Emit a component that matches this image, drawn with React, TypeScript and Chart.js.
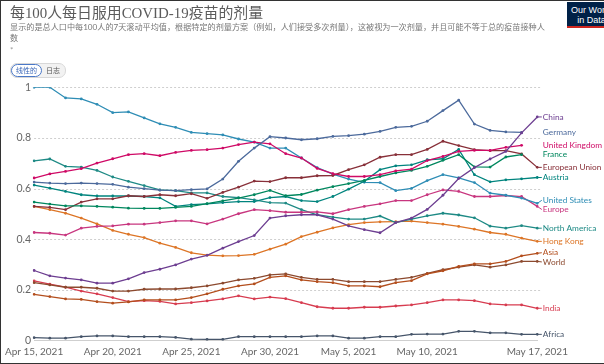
import React, { useEffect, useRef } from "react";
import { Chart, registerables } from "chart.js";

Chart.register(...registerables);

const dates = [
  "Apr 15, 2021", "Apr 16, 2021", "Apr 17, 2021", "Apr 18, 2021", "Apr 19, 2021",
  "Apr 20, 2021", "Apr 21, 2021", "Apr 22, 2021", "Apr 23, 2021", "Apr 24, 2021",
  "Apr 25, 2021", "Apr 26, 2021", "Apr 27, 2021", "Apr 28, 2021", "Apr 29, 2021",
  "Apr 30, 2021", "May 1, 2021", "May 2, 2021", "May 3, 2021", "May 4, 2021",
  "May 5, 2021", "May 6, 2021", "May 7, 2021", "May 8, 2021", "May 9, 2021",
  "May 10, 2021", "May 11, 2021", "May 12, 2021", "May 13, 2021", "May 14, 2021",
  "May 15, 2021", "May 16, 2021", "May 17, 2021",
];

const xTickLabels = ["Apr 15, 2021", "Apr 20, 2021", "Apr 25, 2021", "Apr 30, 2021", "May 5, 2021", "May 10, 2021", "May 17, 2021"];
const yTickValues = [0, 0.2, 0.4, 0.6, 0.8, 1];

const china = [0.277,0.256,0.247,0.240,0.227,0.227,0.244,0.269,0.282,0.299,0.322,0.337,0.365,0.391,0.415,0.484,0.493,0.497,0.497,0.480,0.453,0.438,0.426,0.466,0.484,0.518,0.574,0.640,0.683,0.717,0.747,0.820,0.883];
const germany = [0.626,0.622,0.620,0.622,0.620,0.617,0.606,0.600,0.594,0.592,0.596,0.599,0.638,0.708,0.760,0.805,0.800,0.793,0.797,0.806,0.809,0.815,0.826,0.842,0.846,0.866,0.908,0.949,0.855,0.830,0.824,0.822,null];
const unitedKingdom = [0.642,0.658,0.668,0.679,0.701,0.718,0.734,0.738,0.730,0.743,0.751,0.754,0.760,0.774,0.784,0.777,0.738,0.721,0.680,0.659,0.648,0.648,0.655,0.670,0.677,0.711,0.727,0.747,0.751,0.751,0.763,0.771,null];
const france = [0.547,0.539,0.532,0.532,0.530,0.527,0.523,0.522,0.522,0.526,0.530,0.541,0.552,0.563,0.576,0.593,0.572,0.577,0.594,0.608,0.620,0.633,0.648,0.662,0.672,0.688,0.712,0.734,0.686,0.685,0.725,0.734,null];
const europeanUnion = [0.530,0.526,0.517,0.547,0.560,0.560,0.572,0.569,0.576,0.572,0.580,0.562,0.585,0.606,0.630,0.628,0.643,0.643,0.651,0.652,0.675,0.694,0.724,0.734,0.734,0.755,0.787,0.770,0.754,0.750,0.750,0.737,0.684];
const austria = [0.614,0.602,0.589,0.576,0.571,0.571,0.571,0.569,0.564,0.530,0.537,0.540,0.545,0.549,0.549,0.565,0.569,0.553,0.549,0.569,0.598,0.629,0.675,0.690,0.694,0.714,0.718,0.755,0.655,0.627,0.635,0.639,0.644];
const unitedStates = [1.0,1.0,0.958,0.954,0.933,0.900,0.903,0.879,0.856,0.842,0.822,0.817,0.812,0.796,0.784,0.760,0.760,0.721,0.683,0.657,0.638,0.625,0.624,0.592,0.601,0.632,0.655,0.643,0.624,0.582,0.574,0.563,0.542];
const europe = [0.427,0.424,0.417,0.444,0.451,0.453,0.460,0.460,0.466,0.473,0.473,0.461,0.480,0.501,0.517,0.513,0.507,0.507,0.508,0.501,0.517,0.530,0.540,0.553,0.553,0.576,0.595,0.589,0.569,0.569,0.573,0.569,0.530];
const northAmerica = [0.710,0.717,0.688,0.685,0.672,0.646,0.629,0.612,0.595,0.592,0.583,0.583,0.569,0.565,0.556,0.545,0.543,0.517,0.497,0.488,0.480,0.480,0.492,0.466,0.480,0.493,0.503,0.496,0.485,0.452,0.444,0.454,0.444];
const hongKong = [0.530,0.517,0.503,0.484,0.461,0.435,0.420,0.407,0.385,0.368,0.347,0.338,0.335,0.336,0.341,0.361,0.381,0.411,0.428,0.445,0.458,0.466,0.469,0.470,0.472,0.466,0.460,0.451,0.440,0.427,0.420,0.405,0.392];
const asia = [0.183,0.174,0.165,0.163,0.154,0.148,0.153,0.161,0.161,0.161,0.170,0.185,0.203,0.216,0.224,0.250,0.256,0.240,0.233,0.229,0.216,0.216,0.213,0.229,0.237,0.264,0.276,0.293,0.303,0.303,0.313,0.335,0.345];
const world = [0.229,0.220,0.211,0.211,0.207,0.196,0.196,0.203,0.204,0.204,0.209,0.216,0.227,0.240,0.246,0.260,0.264,0.250,0.242,0.242,0.233,0.233,0.233,0.242,0.250,0.266,0.280,0.290,0.299,0.290,0.299,0.313,0.313];
const india = [0.236,0.223,0.211,0.196,0.185,0.170,0.154,0.158,0.155,0.145,0.150,0.157,0.165,0.177,0.165,0.172,0.166,0.150,0.134,0.128,0.128,0.132,0.132,0.137,0.141,0.150,0.161,0.161,0.158,0.145,0.141,0.141,0.128];
const africa = [0.012,0.010,0.010,0.016,0.019,0.019,0.016,0.016,0.016,0.013,0.006,0.005,0.005,0.016,0.016,0.016,0.016,0.016,0.019,0.019,0.010,0.010,0.016,0.016,0.025,0.026,0.026,0.037,0.037,0.031,0.031,0.025,0.025];

const seriesNames = ["China", "Germany", "United Kingdom", "France", "European Union", "Austria", "United States", "Europe", "North America", "Hong Kong", "Asia", "World", "India", "Africa"];
const seriesValues = [china, germany, unitedKingdom, france, europeanUnion, austria, unitedStates, europe, northAmerica, hongKong, asia, world, india, africa];
const seriesColors = ["#6D3E91", "#4C6A9C", "#CF0A66", "#00875E", "#883039", "#00847E", "#2E8DB5", "#C8367F", "#1E8A85", "#DD7526", "#B34E1D", "#8C4A2F", "#D73C50", "#46556A"];

const dottedGrid = {
  id: "dottedGrid",
  beforeDatasetsDraw(chart: any) {
    const ctx = chart.ctx;
    const area = chart.chartArea;
    const y = chart.scales.y;
    ctx.save();
    ctx.strokeStyle = "#cfcfcf";
    ctx.lineWidth = 1;
    ctx.setLineDash([2, 2]);
    y.ticks.forEach((t: any) => {
      if (t.value === 0) return;
      const py = Math.round(y.getPixelForValue(t.value)) + 0.5;
      ctx.beginPath();
      ctx.moveTo(area.left, py);
      ctx.lineTo(area.right + 3, py);
      ctx.stroke();
    });
    ctx.restore();
  },
};

const endLabels = {
  id: "endLabels",
  afterDatasetsDraw(chart: any) {
    const ctx = chart.ctx;
    const area = chart.chartArea;
    const items: any[] = [];
    chart.data.datasets.forEach((ds: any, i: number) => {
      const meta = chart.getDatasetMeta(i);
      let idx = ds.data.length - 1;
      while (idx >= 0 && ds.data[idx] == null) idx--;
      const pt = meta.data[idx];
      if (!pt) return;
      items.push({ label: ds.label, color: ds.borderColor, x: pt.x, y: pt.y, ly: pt.y });
    });
    items.sort((a, b) => a.y - b.y);
    const gap = 9.2;
    for (let iter = 0; iter < 100; iter++) {
      let moved = false;
      for (let k = 1; k < items.length; k++) {
        const d = items[k].ly - items[k - 1].ly;
        if (d < gap - 0.01) {
          const s = (gap - d) / 2;
          items[k].ly += s;
          items[k - 1].ly -= s;
          moved = true;
        }
      }
      if (!moved) break;
    }
    const lx = area.right + 5.5;
    ctx.save();
    ctx.font = "8.3px Lato";
    ctx.textBaseline = "middle";
    ctx.textAlign = "left";
    items.forEach((it) => {
      if (it.x >= area.right - 1) {
        ctx.strokeStyle = it.color;
        ctx.lineWidth = 1;
        ctx.beginPath();
        ctx.moveTo(it.x, it.y);
        ctx.lineTo(lx - 1, it.ly);
        ctx.stroke();
      }
      ctx.fillStyle = it.color;
      ctx.fillText(it.label, lx, it.ly);
    });
    ctx.restore();
  },
};

function LineChart() {
  const ref = useRef<HTMLCanvasElement | null>(null);
  useEffect(() => {
    if (!ref.current) return;
    const chart = new Chart(ref.current, {
      type: "line",
      data: {
        labels: dates,
        datasets: seriesNames.map((name, i) => ({
          label: name,
          data: seriesValues[i],
          borderColor: seriesColors[i],
          backgroundColor: seriesColors[i],
          borderWidth: 1.3,
          pointRadius: 1.4,
          pointHoverRadius: 1.4,
          pointBorderWidth: 0,
          tension: 0,
          spanGaps: false,
        })),
      },
      options: {
        animation: false,
        responsive: false,
        maintainAspectRatio: false,
        events: [],
        layout: { padding: { left: 0, top: 87.3, right: 66.7, bottom: 0 } },
        plugins: { legend: { display: false }, tooltip: { enabled: false }, title: { display: false } },
        scales: {
          x: {
            type: "category",
            offset: false,
            grid: { display: false, drawTicks: false },
            border: { display: true, color: "#cfcfcf", width: 1 },
            ticks: {
              autoSkip: false,
              maxRotation: 0,
              minRotation: 0,
              padding: 5,
              color: "#666",
              font: { family: "Lato", size: 10 },
              callback: (_v: any, index: number) => (xTickLabels.includes(dates[index]) ? dates[index] : null),
            },
            afterFit: (s: any) => { s.height = 23.3; },
          },
          y: {
            min: 0,
            max: 1,
            afterBuildTicks: (s: any) => { s.ticks = yTickValues.map((v) => ({ value: v })); },
            grid: { display: false, drawTicks: false },
            border: { display: false },
            ticks: {
              padding: 3,
              color: "#666",
              font: { family: "Lato", size: 10.5 },
              callback: (v: any) => String(Number(Number(v).toFixed(1))),
            },
            afterFit: (s: any) => { s.width = 28.5; },
          },
        },
      },
      plugins: [dottedGrid, endLabels],
    } as any);
    return () => chart.destroy();
  }, []);
  return <canvas ref={ref} width={604} height={364} style={{ position: "absolute", left: 0, top: 0, width: 604, height: 364 }} />;
}

export default function App() {
  return (
    <div style={{ position: "fixed", left: 0, top: 0, width: 604, height: 364, overflow: "hidden", background: "#fff" }}>
      <LineChart />
      <div style={{ position: "absolute", left: 10, top: 4, fontSize: 14.9, lineHeight: "19px", color: "#5b5b5b", fontFamily: '"Liberation Serif","Noto Sans CJK SC",serif', whiteSpace: "nowrap" }}>
        每100人每日服用COVID-19疫苗的剂量
      </div>
      <div style={{ position: "absolute", left: 10, top: 22, fontSize: 8.15, lineHeight: "11px", color: "#777", fontFamily: 'Lato,"Noto Sans CJK SC",sans-serif', whiteSpace: "nowrap" }}>
        显示的是总人口中每100人的7天滚动平均值，根据特定的剂量方案（例如，人们接受多次剂量），这被视为一次剂量，并且可能不等于总的疫苗接种人
        <br />数
      </div>
      <div style={{ position: "absolute", left: 10, top: 45, fontSize: 8, color: "#999", fontFamily: "Lato,sans-serif" }}>*</div>
      <div style={{ position: "absolute", left: 10, top: 63, display: "flex", alignItems: "center", fontSize: 7, lineHeight: "9px", fontFamily: '"Noto Sans CJK SC",sans-serif', border: "1px solid #d8d8d8", borderRadius: 7, background: "#f2f2f2" }}>
        <span style={{ border: "1px solid #4a78c8", borderRadius: 7, padding: "1px 4px", color: "#3a67b8", background: "#fff" }}>线性的</span>
        <span style={{ padding: "1px 5px 1px 4px", color: "#555" }}>日志</span>
      </div>
      <div style={{ position: "absolute", left: 567, top: 2, width: 49, height: 26, background: "#002147", borderBottom: "2px solid #ce261e", color: "#fff", fontFamily: '"Liberation Sans",sans-serif', fontSize: 9, lineHeight: "10px", textAlign: "center", paddingTop: 3, boxSizing: "border-box" }}>
        Our World<br />in Data
      </div>
      <div style={{ position: "absolute", left: 0, top: 0, width: 604, height: 364, boxSizing: "border-box", borderLeft: "1px solid #333", borderTop: "1px solid #333", borderBottom: "1px solid #333", pointerEvents: "none" }} />
    </div>
  );
}
